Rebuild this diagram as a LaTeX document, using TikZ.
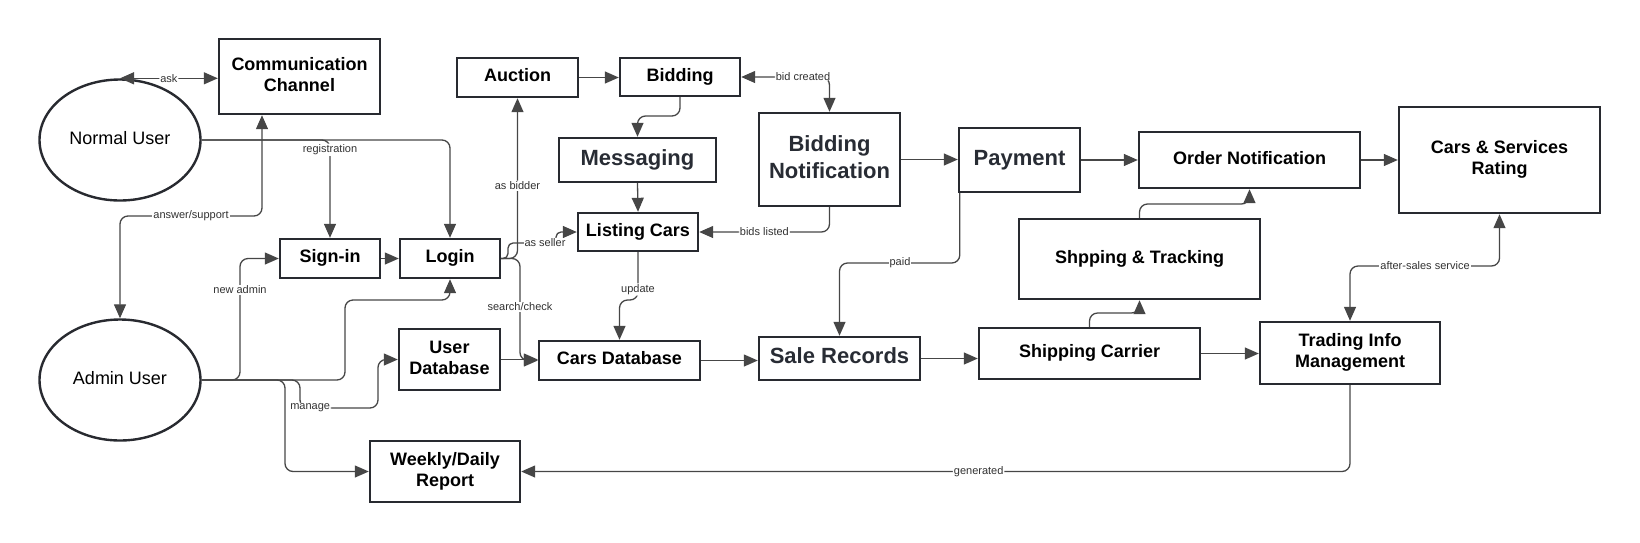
\documentclass[tikz,border=0pt]{standalone}
\usepackage{fontspec}
\setmainfont{Liberation Sans}
\usetikzlibrary{arrows.meta,shapes.geometric}
\definecolor{boxline}{RGB}{40,42,48}
\definecolor{conncol}{RGB}{70,70,70}
\definecolor{lblcol}{RGB}{50,50,50}
\definecolor{bigtxt}{RGB}{40,44,52}
\begin{document}
\begin{tikzpicture}[x=1pt,y=-1pt,
  box/.style={draw=boxline, line width=2.4pt, inner sep=0pt, align=center, text height=13pt, text depth=4.5pt, font=\fontsize{18}{21}\selectfont\bfseries},
  twoline/.style={text height=34pt, text depth=4.5pt},
  bigbox/.style={box, text height=16pt, text depth=5.5pt, font=\fontsize{22}{27}\selectfont\bfseries, text=bigtxt},
  bigtwo/.style={text height=43pt, text depth=5.5pt},
  user/.style={draw=boxline, line width=2.4pt, ellipse, minimum width=161pt, minimum height=121pt, inner sep=0pt, text height=13pt, text depth=4.5pt, font=\fontsize{18}{21}\selectfont},
  conn/.style={draw=conncol, line width=1.3pt, rounded corners=8pt, -{Triangle[length=14pt,width=12pt]}},
  both/.style={conn, {Triangle[length=14pt,width=12pt]}-{Triangle[length=14pt,width=12pt]}},
  lab/.style={fill=white, inner sep=1pt, text=lblcol, font=\fontsize{11}{13}\selectfont}
]
\useasboundingbox (0,0) rectangle (1640,542);

% users
\node[user] (NU) at (120,140) {Normal User};
\node[user] (AU) at (120,380) {Admin User};

% boxes
\node[box, twoline, minimum width=161pt, minimum height=75pt] (CC) at (299.5,76.5) {Communication\\Channel};
\node[box, minimum width=121pt, minimum height=39pt] (Auction) at (517.5,77.5) {Auction};
\node[box, minimum width=120pt, minimum height=38pt] (Bidding) at (680,77) {Bidding};
\node[bigbox, minimum width=157pt, minimum height=44pt] (Messaging) at (637.5,160) {Messaging};
\node[bigbox, bigtwo, minimum width=141pt, minimum height=93pt] (BN) at (829.5,159.5) {Bidding\\Notification};
\node[bigbox, minimum width=121pt, minimum height=64pt] (Payment) at (1019.5,160) {Payment};
\node[box, minimum width=221pt, minimum height=56pt] (ON) at (1249.5,160) {Order Notification};
\node[box, twoline, minimum width=201pt, minimum height=106pt] (CSR) at (1499.5,160) {Cars \& Services\\Rating};
\node[box, minimum width=100pt, minimum height=39pt] (Signin) at (330,258.5) {Sign-in};
\node[box, minimum width=100pt, minimum height=39pt] (Login) at (450,258.5) {Login};
\node[box, minimum width=120pt, minimum height=38pt] (LC) at (638,232) {Listing Cars};
\node[box, minimum width=241pt, minimum height=80pt] (ST) at (1139.5,259) {Shpping \& Tracking};
\node[box, twoline, minimum width=101pt, minimum height=61pt] (UD) at (449.5,359.5) {User\\Database};
\node[box, minimum width=161pt, minimum height=39pt] (CD) at (619.5,360.5) {Cars Database};
\node[bigbox, minimum width=161pt, minimum height=43pt] (SR) at (839.5,358.5) {Sale Records};
\node[box, minimum width=221pt, minimum height=51pt] (SC) at (1089.5,353.5) {Shipping Carrier};
\node[box, twoline, minimum width=180pt, minimum height=62pt] (TIM) at (1350,353) {Trading Info\\Management};
\node[box, twoline, minimum width=150pt, minimum height=61pt] (Weekly) at (445,471.5) {Weekly/Daily\\Report};

% bend coordinates
\coordinate (asup) at (191,216);
\coordinate (na) at (240,290);
\coordinate (al) at (345,300);
\coordinate (m1) at (300,408);
\coordinate (m2) at (378,408);
\coordinate (w1) at (285,430);
\coordinate (s1) at (508,243);
\coordinate (s2) at (556,243);
\coordinate (sc) at (520,307);
\coordinate (bm) at (660,116);
\coordinate (pd) at (900,263);
\coordinate (u1) at (638,300);
\coordinate (st) at (1110,313);
\coordinate (so) at (1200,204);
\coordinate (asv) at (1425,266);

% connectors
\draw[both] (NU.north) -- (NU.north -| CC.west) node[lab, midway] (lask) {ask};
\draw[conn] (NU.east) -| (Signin.north) node[lab, pos=0.55] (lreg) {registration};
\draw[conn] (NU.east) -| (Login.north);
\draw[both] ([xshift=-37.5pt]CC.south) |- (asup) -| (AU.north);
\node[lab] (lans) at (asup) {answer/support};

\draw[conn] (AU.east) -| (na) |- (Signin.west);
\node[lab] (lna) at (na) {new admin};
\draw[conn] (AU.east) -| (al) -| (Login.south);
\draw[conn] (AU.east) -| (m1) -- (m2) node[lab, pos=0.13] (lman) {manage} |- (UD.west);
\draw[conn] (AU.east) -| (w1) |- (Weekly.west);

\draw[conn] (Signin.east) -- (Signin.east -| Login.west);
\draw[conn] (Login.east) -| (Auction.south) node[lab, pos=0.727] (lbid) {as bidder};
\draw[conn, rounded corners=5pt] (Login.east) -| (s1) -- (s2) |- (LC.west);
\node[lab] (lsel) at (545,243) {as seller};
\draw[conn] (Login.east) -| (sc) |- (CD.west);
\node[lab] (lsc) at (sc) {search/check};
\draw[conn] (UD.east) -- (UD.east -| CD.west);

\draw[conn] (Auction.east) -- (Auction.east -| Bidding.west);
\draw[both] (Bidding.east) -| (BN.north) node[lab, pos=0.35] (lbc) {bid created};
\draw[conn] (Bidding.south) |- (bm) -| (Messaging.north);
\draw[conn] (Messaging.south) -- (LC.north);
\draw[conn] (BN.south) |- (LC.east) node[lab, pos=0.75] (lbl) {bids listed};
\draw[conn] (BN.east) -- (BN.east -| Payment.west);
\draw[conn] (Payment.east) -- (Payment.east -| ON.west);
\draw[conn] (ON.east) -- (ON.east -| CSR.west);

\draw[conn] ([xshift=2pt]Payment.south west) |- (pd) -| (SR.north);
\node[lab] (lpaid) at (pd) {paid};
\draw[conn] (LC.south) -- (u1) node[lab, pos=0.78] (lup) {update} -| (CD.north);

\draw[conn] (CD.east) -- (CD.east -| SR.west);
\draw[conn] (SR.east) -- (SR.east -| SC.west);
\draw[conn] (SC.east) -- (SC.east -| TIM.west);
\draw[conn] (SC.north) |- (st) -| (ST.south);
\draw[conn] (ST.north) |- (so) -| (ON.south);
\draw[both] (TIM.north) |- (asv) -| (CSR.south);
\node[lab] (las) at (asv) {after-sales service};
\draw[conn] (TIM.south) |- (Weekly.east) node[lab, pos=0.724] (lgen) {generated};
\end{tikzpicture}
\end{document}
